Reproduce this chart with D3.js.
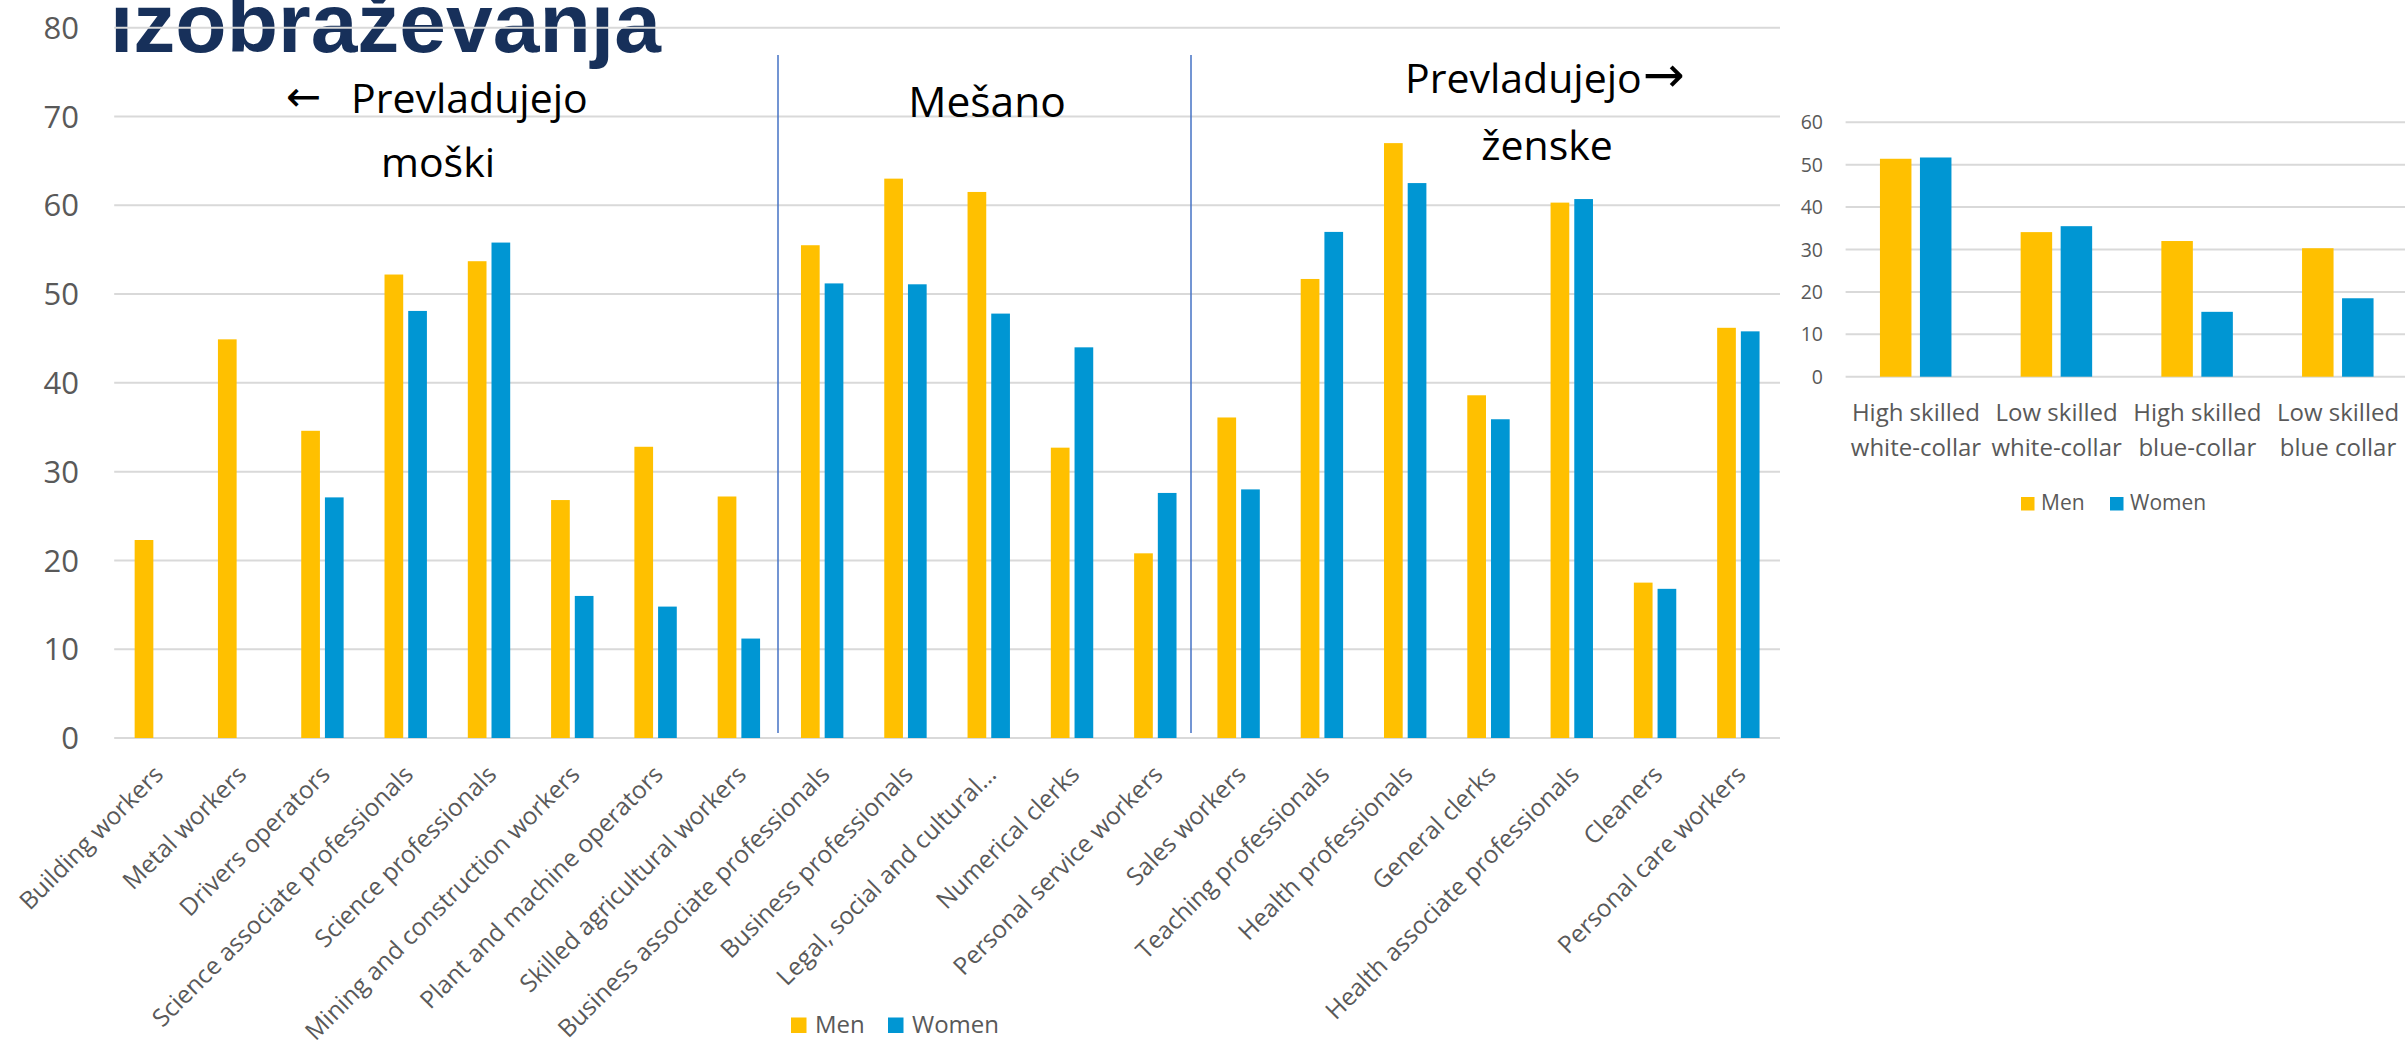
<!DOCTYPE html>
<html>
<head>
<meta charset="utf-8">
<script src="https://cdn.jsdelivr.net/npm/d3@7"></script>
<style>
  html, body { margin: 0; padding: 0; background: #ffffff; }
  svg { display: block; font-family: "Open Sans", "Noto Sans", sans-serif; }
</style>
</head>
<body>
<svg id="chart" width="2405" height="1045"></svg>
<script>
// ---------------- data ----------------
const categories = [
  "Building workers", "Metal workers", "Drivers operators",
  "Science associate professionals", "Science professionals",
  "Mining and construction workers", "Plant and machine operators",
  "Skilled agricultural workers", "Business associate professionals",
  "Business professionals", "Legal, social and cultural…", "Numerical clerks",
  "Personal service workers", "Sales workers", "Teaching professionals",
  "Health professionals", "General clerks", "Health associate professionals",
  "Cleaners", "Personal care workers"
];
const menValues = [22.3, 44.9, 34.6, 52.2, 53.7, 26.8, 32.8, 27.2, 55.5, 63.0,
                   61.5, 32.7, 20.8, 36.1, 51.7, 67.0, 38.6, 60.3, 17.5, 46.2];
const womenValues = [null, null, 27.1, 48.1, 55.8, 16.0, 14.8, 11.2, 51.2, 51.1,
                     47.8, 44.0, 27.6, 28.0, 57.0, 62.5, 35.9, 60.7, 16.8, 45.8];
const mainTicks = [0, 10, 20, 30, 40, 50, 60, 70, 80];

const groupCategories = ["High skilled white-collar", "Low skilled white-collar",
                         "High skilled blue-collar", "Low skilled blue collar"];
const groupLabelLines = [["High skilled", "white-collar"], ["Low skilled", "white-collar"],
                         ["High skilled", "blue-collar"], ["Low skilled", "blue collar"]];
const groupMen = [51.4, 34.1, 32.0, 30.3];
const groupWomen = [51.7, 35.5, 15.3, 18.5];
const groupTicks = [0, 10, 20, 30, 40, 50, 60];

const seriesNames = ["Men", "Women"];
const sectionLabels = [
  { lines: ["Prevladujejo", "moški"] },
  { lines: ["Mešano"] },
  { lines: ["Prevladujejo", "ženske"] }
];
const titleText = "izobraževanja";

// ---------------- styles ----------------
const colors = { Men: "#FFC000", Women: "#0096D3" };
const gridColor = "#D9D9D9";
const textColor = "#595959";

const svg = d3.select("#chart");

// ---------------- title fragment ----------------
svg.append("text")
  .attr("x", 110).attr("y", 52)
  .style("font-family", "'Liberation Sans', Arial, sans-serif")
  .style("font-weight", "bold")
  .style("font-size", "84px")
  .attr("fill", "#17305A")
  .text(titleText);

// ---------------- main chart ----------------
const main = svg.append("g");
const x0 = d3.scaleBand().domain(categories).range([114.2, 1780]).paddingInner(0).paddingOuter(0);
const x1 = d3.scaleBand().domain(seriesNames).range([-21.2, 21.2]).paddingInner(0.211).paddingOuter(0);
const y = d3.scaleLinear().domain([0, 80]).range([738, 27.7]);

// gridlines
main.append("g").selectAll("line").data(mainTicks).join("line")
  .attr("x1", 114.2).attr("x2", 1780)
  .attr("y1", d => y(d)).attr("y2", d => y(d))
  .attr("stroke", gridColor).attr("stroke-width", 2);

// y tick labels
main.append("g").selectAll("text").data(mainTicks).join("text")
  .attr("x", 79).attr("y", d => y(d)).attr("dy", "0.36em")
  .attr("text-anchor", "end")
  .style("font-size", "31px").attr("fill", textColor)
  .text(d => d);

// bars
const rows = categories.map((c, i) => ({ cat: c, Men: menValues[i], Women: womenValues[i] }));
const catG = main.append("g").selectAll("g").data(rows).join("g")
  .attr("transform", d => `translate(${x0(d.cat) + x0.bandwidth() / 2},0)`);
catG.selectAll("rect")
  .data(d => seriesNames.map(s => ({ s, v: d[s] })).filter(e => e.v != null))
  .join("rect")
  .attr("x", d => x1(d.s)).attr("width", x1.bandwidth())
  .attr("y", d => y(d.v)).attr("height", d => y(0) - y(d.v))
  .attr("fill", d => colors[d.s]);

// x labels rotated
main.append("g").selectAll("text").data(categories).join("text")
  .attr("transform", d => `translate(${x0(d) + x0.bandwidth() / 2 + 9},776) rotate(-45)`)
  .attr("text-anchor", "end")
  .style("font-size", "24.5px").attr("fill", textColor)
  .text(d => d);

// section dividers
const dividerX = [778, 1191];
main.append("g").selectAll("line").data(dividerX).join("line")
  .attr("x1", d => d).attr("x2", d => d)
  .attr("y1", 55).attr("y2", 733)
  .attr("stroke", "#4472C4").attr("stroke-width", 1.5);

// section annotations
const ann = main.append("g").attr("fill", "#000").style("font-size", "41px");
ann.append("text").attr("x", 286).attr("y", 111)
  .style("font-family", "'DejaVu Sans', sans-serif").style("font-size", "42px").text("←");
ann.append("text").attr("x", 351).attr("y", 113).text(sectionLabels[0].lines[0]);
ann.append("text").attr("x", 438).attr("y", 177).attr("text-anchor", "middle").text(sectionLabels[0].lines[1]);
ann.append("text").attr("x", 987).attr("y", 117).attr("text-anchor", "middle")
  .style("font-size", "42.5px").text(sectionLabels[1].lines[0]);
const rightHead = ann.append("text").attr("x", 1405).attr("y", 93).text(sectionLabels[2].lines[0]);
const rhw = rightHead.node().getComputedTextLength();
ann.append("text").attr("x", 1405 + rhw + 1).attr("y", 92)
  .style("font-family", "'DejaVu Sans', sans-serif").style("font-size", "50px").text("→");
ann.append("text").attr("x", 1547).attr("y", 160).attr("text-anchor", "middle").text(sectionLabels[2].lines[1]);

// main legend
const legMain = main.append("g");
const legMainPos = [{ sx: 791, tx: 815 }, { sx: 888, tx: 912 }];
seriesNames.forEach((s, i) => {
  legMain.append("rect").attr("x", legMainPos[i].sx).attr("y", 1017.5)
    .attr("width", 15.5).attr("height", 15.5).attr("fill", colors[s]);
  legMain.append("text").attr("x", legMainPos[i].tx).attr("y", 1033)
    .style("font-size", "24px").attr("fill", textColor).text(s);
});

// ---------------- small chart ----------------
const small = svg.append("g");
const gx0 = d3.scaleBand().domain(groupCategories).range([1845.6, 2408.4]).padding(0);
const gx1 = d3.scaleBand().domain(seriesNames).range([-36, 35.5]).paddingInner(0.2125).paddingOuter(0);
const gy = d3.scaleLinear().domain([0, 60]).range([376.7, 122.3]);

small.append("g").selectAll("line").data(groupTicks).join("line")
  .attr("x1", 1845.6).attr("x2", 2405)
  .attr("y1", d => gy(d)).attr("y2", d => gy(d))
  .attr("stroke", gridColor).attr("stroke-width", 2);

small.append("g").selectAll("text").data(groupTicks).join("text")
  .attr("x", 1823).attr("y", d => gy(d)).attr("dy", "0.36em")
  .attr("text-anchor", "end").style("font-size", "19.5px").attr("fill", textColor)
  .text(d => d);

const gRows = groupCategories.map((c, i) => ({ cat: c, Men: groupMen[i], Women: groupWomen[i] }));
const gG = small.append("g").selectAll("g").data(gRows).join("g")
  .attr("transform", d => `translate(${gx0(d.cat) + gx0.bandwidth() / 2},0)`);
gG.selectAll("rect")
  .data(d => seriesNames.map(s => ({ s, v: d[s] })))
  .join("rect")
  .attr("x", d => gx1(d.s)).attr("width", gx1.bandwidth())
  .attr("y", d => gy(d.v)).attr("height", d => gy(0) - gy(d.v))
  .attr("fill", d => colors[d.s]);

const gLab = small.append("g").selectAll("text").data(groupCategories).join("text")
  .attr("text-anchor", "middle").style("font-size", "24px").attr("fill", textColor);
gLab.each(function (d, i) {
  const t = d3.select(this);
  const cx = gx0(d) + gx0.bandwidth() / 2;
  groupLabelLines[i].forEach((ln, j) => {
    t.append("tspan").attr("x", cx).attr("y", 421 + j * 35).text(ln);
  });
});

const legSmall = small.append("g");
const legSmallPos = [{ sx: 2021, tx: 2041 }, { sx: 2110, tx: 2130 }];
seriesNames.forEach((s, i) => {
  legSmall.append("rect").attr("x", legSmallPos[i].sx).attr("y", 497)
    .attr("width", 13.5).attr("height", 13.5).attr("fill", colors[s]);
  legSmall.append("text").attr("x", legSmallPos[i].tx).attr("y", 510)
    .style("font-size", "21px").attr("fill", textColor).text(s);
});
</script>
</body>
</html>
